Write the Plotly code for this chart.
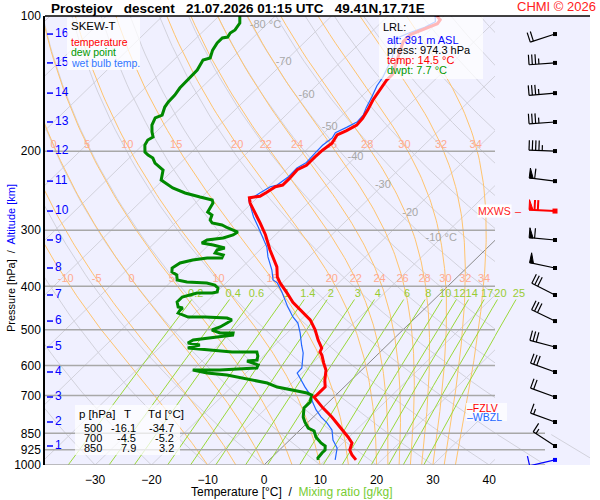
import numpy as np
import plotly.graph_objects as go

# --- sounding (pressure hPa, temperature degC) ---
temp_p = [974, 950, 926, 893, 866, 823, 782, 747, 706, 698,
          681, 670, 647, 615, 593, 569, 560, 549, 527, 500,
          475, 456, 434, 414, 393, 381, 362, 332, 318, 307,
          289, 275, 261, 254, 252, 247, 240, 238, 230, 220,
          215, 206, 199, 192, 184, 180, 175, 169, 162, 154,
          146, 139, 135, 124, 114, 110, 106, 104, 102, 100]
temp_t = [15.4, 13.8, 12.5, 11.6, 9.8, 6.6, 3.3, 0.1, -3.5, -3.4,
          -3.4, -3.4, -4.7, -6.3, -8.0, -9.8, -10.7, -11.1, -13.2, -15.6,
          -18.3, -21.2, -24.6, -27.3, -30.4, -32.0, -33.9, -38.2, -40.2, -41.8,
          -44.9, -47.6, -50.3, -51.4, -49.8, -49.3, -48.8, -47.8, -47.8, -48.0,
          -47.2, -47.2, -47.1, -46.7, -47.3, -46.4, -45.6, -45.8, -46.4, -47.3,
          -47.9, -48.5, -48.5, -50.5, -52.6, -52.6, -50.9, -49.8, -50.0, -51.3]

dwpt_p = [100, 103.7, 107.4, 109.1, 111.4, 111.9, 114.8, 119.1, 124.0, 125.3,
          131.9, 138.9, 144.7, 150.0, 155.4, 159.5, 166.2, 168.7, 174.9, 181.3,
          186.0, 188.9, 193.8, 200.9, 204.0, 207.2, 212.6, 220.3, 232.0, 241.6,
          247.8, 253.0, 256.9, 261.0, 273.3, 277.5, 284.7, 289.1, 292.1, 296.6,
          302.8, 307.4, 312.2, 315.4, 320.3, 323.6, 328.6, 331.9, 337.1, 340.6,
          345.9, 345.9, 349.5, 354.9, 364.1, 371.7, 377.4, 387.3, 391.3, 393.3,
          397.4, 403.5, 411.9, 414.0, 414.0, 422.6, 433.5, 444.8, 447.1, 451.7,
          458.7, 468.2, 468.2, 470.6, 475.4, 482.8, 492.8, 500.5, 508.2, 508.2,
          513.5, 518.8, 526.8, 535.0, 540.6, 548.9, 554.6, 560.3, 560.3, 571.8,
          583.8, 586.8, 592.8, 598.9, 608.2, 614.5, 614.5, 624.0, 630.4, 640.2,
          656.8, 670.4, 680.8, 691.4, 698.5, 724.0, 746.6, 781.8, 802.1, 827.2,
          840.1, 866.2, 893.2, 907.1, 925.9, 940.2, 964.8, 974.0]
dwpt_t = [-86.3, -85.0, -84.6, -84.9, -84.6, -85.4, -85.4, -84.9, -83.9, -84.8,
          -84.0, -83.8, -83.8, -83.4, -83.3, -83.0, -82.0, -82.7, -82.0, -80.7,
          -79.6, -80.0, -79.6, -78.3, -77.2, -75.8, -74.5, -71.8, -70.3, -66.8,
          -63.7, -60.3, -57.6, -56.9, -56.2, -54.9, -54.3, -53.4, -51.3, -49.7,
          -47.2, -47.5, -48.7, -51.2, -51.6, -49.2, -46.6, -47.6, -47.4, -45.6,
          -45.3, -47.9, -50.1, -51.8, -52.3, -51.6, -50.2, -49.2, -47.1, -43.4,
          -41.6, -40.5, -39.9, -40.6, -43.3, -45.2, -45.2, -44.1, -43.1, -43.2,
          -43.0, -40.5, -37.5, -33.4, -32.2, -32.5, -33.0, -33.9, -31.9, -29.6,
          -29.3, -31.7, -35.4, -35.8, -33.3, -34.9, -30.1, -26.3, -21.9, -21.0,
          -20.4, -22.0, -20.6, -19.3, -19.0, -25.2, -30.0, -26.9, -23.0, -19.6,
          -14.4, -11.9, -8.6, -5.5, -4.3, -3.3, -3.3, -1.8, -0.6, 1.1,
          2.7, 4.1, 6.1, 7.4, 8.1, 8.1, 8.3, 8.7]

wetb_p = [974, 917, 880, 836, 806, 782, 754, 728, 698, 670,
          640, 624, 608, 584, 563, 541, 508, 483, 468, 445,
          429, 412, 393, 387, 368, 344, 327, 311, 295, 280,
          266, 257, 248, 240, 238, 228, 218, 212, 202, 194,
          187, 182, 177, 172, 166, 160, 152, 146, 143, 137,
          124, 112, 109, 106, 103, 100]
wetb_t = [11.7, 9.9, 7.7, 5.7, 3.5, 1.4, -0.8, -2.6, -4.6, -7.0,
          -9.5, -10.9, -11.0, -12.3, -13.5, -15.2, -17.7, -19.9, -21.9, -24.6,
          -26.4, -28.4, -30.9, -32.2, -34.2, -37.3, -39.3, -41.8, -44.5, -47.2,
          -49.6, -51.1, -50.4, -49.7, -48.8, -48.3, -48.4, -47.7, -47.9, -48.0,
          -47.6, -48.0, -47.0, -46.1, -46.3, -47.1, -48.0, -48.8, -49.2, -49.7,
          -51.6, -54.4, -53.1, -51.4, -50.5, -51.6]

# altitude marks (km) and the pressure they sit at
alt_km = list(range(1, 17))
alt_p = [907.1, 802.1, 705.6, 620.7, 546.1, 478.0, 418.2, 364.1,
         315.4, 271.9, 233.2, 199.9, 172.2, 148.5, 127.2, 109.7]

# winds: surface first, then every km
wind_p = [974.3] + alt_p
wind_dir = [257, 303, 290, 290, 290, 285, 296, 297, 282, 275, 273, 277, 272, 266, 265, 266, 252]
wind_spd = [10, 15, 15, 20, 30, 30, 30, 30, 50, 60, 70, 60, 45, 35, 35, 35, 20]

# background line families
isotherms = list(range(-130, 50, 10))
dry_theta = list(range(-40, 210, 10))
moist_thw = [-10, -5, 0, 5, 10, 15, 20, 22, 24, 26, 28, 30, 32, 34]
mix_ratio = [0.2, 0.4, 0.6, 1, 1.4, 2, 3, 4, 6, 8, 10, 12, 14, 17, 20, 25]
iso_lab_t = [-80, -70, -60, -50, -40, -30, -20, -10]
iso_lab_p = [105, 127, 150, 177, 206, 238, 275, 312]
plevels = [200, 300, 400, 500, 600, 700, 850, 925, 1000]

# --- geometry ---
SKEW = 82.0
X_LEFT, X_RIGHT = -38.9, 41.03
PXL, PXD, PXR = 45, 495, 590          # left edge, diagram edge, right edge
PYT, PYB = 16, 465
W, H = 600, 500
PX_PER_C = (PXD - PXL) / (X_RIGHT - X_LEFT)


def skew_x(t, p):
    return np.asarray(t, float) + SKEW * np.log10(1000.0 / np.asarray(p, float))


def x_to_px(x):
    return PXL + (np.asarray(x) - X_LEFT) * PX_PER_C


def px_to_x(px):
    return X_LEFT + (px - PXL) / PX_PER_C


def p_to_py(p):
    return PYT + (PYB - PYT) * (np.log10(p) - 2)


def py_to_p(py):
    return 10 ** (2 + (np.asarray(py) - PYT) / (PYB - PYT))


def xp(px):
    return (px - PXL) / (PXR - PXL)


def yp(py):
    return (PYB - py) / (PYB - PYT)


# moist (pseudo) adiabats
RD, CP, LV, EPS = 287.04, 1005.7, 2.501e6, 0.622


def esat(tc):
    return 6.112 * np.exp(17.67 * tc / (tc + 243.5))


def dtdp(p, T):
    e = esat(T - 273.15)
    rs = EPS * e / (p - e)
    return (RD * T + LV * rs) / (CP + LV * LV * rs * EPS / (RD * T * T)) / p


def moist_curve(t0, pp):
    T = t0 + 273.15
    out = [T]
    for i in range(1, len(pp)):
        h = pp[i] - pp[i - 1]
        p = pp[i - 1]
        k1 = dtdp(p, T)
        k2 = dtdp(p + h / 2, T + h / 2 * k1)
        k3 = dtdp(p + h / 2, T + h / 2 * k2)
        k4 = dtdp(p + h, T + h * k3)
        T = T + h / 6 * (k1 + 2 * k2 + 2 * k3 + k4)
        out.append(T)
    return np.array(out) - 273.15


def mix_td(w, p):
    e = np.asarray(p, float) * w / (622.0 + w)
    l = np.log(e / 6.112)
    return 243.5 * l / (17.67 - l)


fig = go.Figure()


def lines(xs, ys, color, width, xaxis="x"):
    fig.add_trace(go.Scatter(x=xs, y=ys, mode="lines", xaxis=xaxis, yaxis="y",
                             line=dict(color=color, width=width),
                             hoverinfo="skip", showlegend=False))


def labels(xs, ys, txt, color, size, xaxis="x"):
    fig.add_trace(go.Scatter(x=xs, y=ys, mode="text", text=txt, xaxis=xaxis, yaxis="y",
                             textfont=dict(color=color, size=size), cliponaxis=False,
                             hoverinfo="skip", showlegend=False))


GRAY = "#d2d2dc"

# isotherms
xs, ys = [], []
for t in isotherms:
    if t == 0:
        continue
    pp = [1000, 100]
    xs += list(skew_x(t, pp)) + [None]
    ys += pp + [None]
lines(xs, ys, GRAY, 1)

# dry adiabats
pp = np.logspace(3, 2, 60)
xs, ys, xs2, ys2 = [], [], [], []
for th in dry_theta:
    t = (th + 273.15) * (pp / 1000.0) ** 0.2857 - 273.15
    xs += list(skew_x(t, pp)) + [None]
    ys += list(pp) + [None]
    low = pp >= 840
    xs2 += list(x_to_px(skew_x(t[low], pp[low]))) + [None]
    ys2 += list(pp[low]) + [None]
lines(xs, ys, GRAY, 1)
lines(xs2, ys2, GRAY, 1, "x2")

# 0 degC isotherm
lines(list(skew_x(0, [1000, 100])), [1000, 100], "#8a8a8a", 1)

# moist adiabats
pm = np.linspace(1000, 100, 181)
xs, ys = [], []
row1_x, row2_x = [], []
for tw in moist_thw:
    t = moist_curve(tw, pm)
    sx = skew_x(t, pm)
    xs += list(sx) + [None]
    ys += list(pm) + [None]
    row1_x.append(np.interp(194, pm[::-1], sx[::-1]))
    row2_x.append(np.interp(386, pm[::-1], sx[::-1]))
lines(xs, ys, "#ffc46e", 1)

# mixing ratio lines
pw = np.linspace(1000, 428, 30)
xs, ys, mix_lab_x = [], [], []
for w in mix_ratio:
    sx = skew_x(mix_td(w, pw), pw)
    xs += list(sx) + [None]
    ys += list(pw) + [None]
    mix_lab_x.append(float(skew_x(mix_td(w, 417), 417)))
lines(xs, ys, "#9ad83a", 1)
lines([float(x_to_px(v)) if v is not None else None for v in xs], ys, "#9ad83a", 1, "x2")

# pressure levels
xs, ys, xs2, ys2 = [], [], [], []
for p in plevels:
    xs += [X_LEFT, X_RIGHT, None]
    ys += [p, p, None]
    if p >= 850:
        xs2 += [PXD, 545, None]
        ys2 += [p, p, None]
lines(xs, ys, "#a8a8a8", 1.5)
lines(xs2, ys2, "#a8a8a8", 1.5, "x2")

# labels of the background lines
labels(list(skew_x(iso_lab_t, iso_lab_p)), iso_lab_p,
       [f"{t} \u00b0C" if t in (-80, -10) else str(t) for t in iso_lab_t], "#a8a8a8", 11)
labels(row1_x, [194] * len(moist_thw), [str(t) for t in moist_thw], "#ffaa90", 11)
labels(row2_x, [386] * len(moist_thw), [str(t) for t in moist_thw], "#ffaa90", 11)
# mixing-ratio labels: the outer ones sit past the diagram edge, on the right-hand axis
inner = [k for k, v in enumerate(mix_lab_x) if v <= X_RIGHT - 0.3]
outer = [k for k, v in enumerate(mix_lab_x) if v > X_RIGHT - 0.3]
labels([mix_lab_x[k] for k in inner], [417] * len(inner),
       [f"{mix_ratio[k]:g}" for k in inner], "#99cc33", 11)
labels([float(x_to_px(mix_lab_x[k])) for k in outer], [417] * len(outer),
       [f"{mix_ratio[k]:g}" for k in outer], "#99cc33", 11, "x2")

# sounding curves
lines(list(skew_x(wetb_t, wetb_p)), wetb_p, "#2266ff", 1.2)
lines(list(skew_x(dwpt_t, dwpt_p)), dwpt_p, "#008800", 3)
lines(list(skew_x(temp_t, temp_p)), temp_p, "#ff0000", 3)

# altitude marks on the left
xs, ys = [], []
for p in alt_p:
    xs += [px_to_x(47), px_to_x(53), None]
    ys += [p, p, None]
lines(xs, ys, "#0000ff", 1.5)
fig.add_trace(go.Scatter(x=[px_to_x(55)] * len(alt_p), y=alt_p, mode="text",
                         text=[str(k) for k in alt_km], textposition="middle right",
                         textfont=dict(color="#0000ff", size=12), hoverinfo="skip",
                         showlegend=False))

# wind barbs (drawn in pixel units on the right-hand axis)
BX, STAFF, FULL, HALF, STEP, FLAG = 555, 26, 10, 5.5, 3.3, 4
imax = int(np.argmax(wind_spd))
for i, (p0, dd, sp) in enumerate(zip(wind_p, wind_dir, wind_spd)):
    col = "#0000ff" if i == 0 else ("#ff0000" if i == imax else "black")
    y0 = p_to_py(p0)
    ux, uy = np.sin(np.radians(dd)), -np.cos(np.radians(dd))
    nx, ny = -uy, ux
    ex, ey = BX + STAFF * ux, y0 + STAFF * uy
    segx, segy = [BX, ex, None], [y0, ey, None]
    n50, rest = divmod(sp, 50)
    n10, rest = divmod(rest, 10)
    pos = 0.0
    for _ in range(n50):
        ax, ay = ex - pos * ux, ey - pos * uy
        bx, by = ex - (pos + FLAG) * ux, ey - (pos + FLAG) * uy
        fx = [ax, ax + FULL * nx, bx, ax]
        fy = [ay, ay + FULL * ny, by, ay]
        fig.add_trace(go.Scatter(x=fx, y=list(py_to_p(fy)), mode="lines", fill="toself",
                                 fillcolor=col, line=dict(color=col, width=1), xaxis="x2",
                                 yaxis="y", hoverinfo="skip", showlegend=False))
        pos += FLAG + 1.5
    for _ in range(n10):
        ax, ay = ex - pos * ux, ey - pos * uy
        segx += [ax, ax + FULL * nx, None]
        segy += [ay, ay + FULL * ny, None]
        pos += STEP
    if rest >= 5:
        if pos == 0:
            pos = STEP
        ax, ay = ex - pos * ux, ey - pos * uy
        segx += [ax, ax + HALF * nx, None]
        segy += [ay, ay + HALF * ny, None]
    segp = [py_to_p(v) if v is not None else None for v in segy]
    fig.add_trace(go.Scatter(x=segx, y=segp, mode="lines", xaxis="x2", yaxis="y",
                             line=dict(color=col, width=2 if i == imax else 1.2),
                             hoverinfo="skip", showlegend=False))
    fig.add_trace(go.Scatter(x=[BX], y=[p0], mode="markers", xaxis="x2", yaxis="y",
                             marker=dict(symbol="square", size=5 if i == imax else 4, color=col),
                             hoverinfo="skip", showlegend=False))

# --- boxes and texts ---
shapes = [
    dict(type="line", xref="paper", yref="paper", x0=0, x1=1, y0=1, y1=1,
         line=dict(color="black", width=1.5)),
]
for (x0, y0, x1, y1) in [(67, 18, 140, 70), (379, 17, 483, 79), (75, 405, 180, 455), (466, 403, 507, 421)]:
    shapes.append(dict(type="rect", xref="paper", yref="paper", layer="above",
                       x0=xp(x0), x1=xp(x1), y0=yp(y1), y1=yp(y0),
                       fillcolor="rgba(255,255,255,0.72)", line=dict(width=0)))
fig.update_layout(shapes=shapes)


def note(px, py, text, color="black", size=11, anchor="left", bg=None, angle=0):
    fig.add_annotation(x=xp(px), y=yp(py), xref="paper", yref="paper", text=text,
                       showarrow=False, xanchor=anchor, yanchor="middle", textangle=angle,
                       font=dict(color=color, size=size), bgcolor=bg, borderpad=0)


note(50, 8, "<b>Prostejov\u00a0\u00a0 descent\u00a0\u00a0 21.07.2026 01:15 UTC\u00a0\u00a0 49.41N,17.71E</b>",
     size=13.5)
note(597, 7, "CHMI \u00a9 2026", color="#ff2020", size=13, anchor="right")

note(70, 26, "SKEW-T", size=11.5)
note(70, 42, "temperature", color="#ff0000", size=10.5)
note(70, 52, "dew point", color="#009900", size=10.5)
note(70, 63, "wet bulb temp.", color="#3377ff", size=10.5)

note(382, 27, "LRL:", size=11)
note(386, 40, "alt: 391 m ASL", color="#0000ff", size=11)
note(386, 50, "press: 974.3 hPa", size=11)
note(386, 60, "temp: 14.5 \u00b0C", color="#ff0000", size=11)
note(386, 70, "dwpt: 7.7 \u00b0C", color="#009900", size=11)

note(78, 414, "p [hPa]", size=11.5)
note(127, 414, "T", size=11.5, anchor="center")
note(147, 414, "Td [\u00b0C]", size=11.5)
table_p = ["500", "700", "850"]
table_t = ["-16.1", "-4.5", "7.9"]
table_td = ["-34.7", "-5.2", "3.2"]
for k, row_y in enumerate([428, 438, 448]):
    note(103, row_y, table_p[k], size=11, anchor="right")
    note(137, row_y, table_t[k], size=11, anchor="right")
    note(175, row_y, table_td[k], size=11, anchor="right")

note(512, p_to_py(wind_p[imax]), "MXWS", color="#ff2020", size=10.5, anchor="right", bg="white")
note(514, p_to_py(wind_p[imax]), "\u2013", color="#ff2020", size=11)
note(466, 408, "\u2013FZLV", color="#ff0000", size=10.5)
note(466, 417, "\u2013WBZL", color="#2266ff", size=10.5)

note(292, 492, "Temperature [\u00b0C]\u00a0 /\u00a0 <span style='color:#77cc33'>Mixing ratio [g/kg]</span>",
     size=12, anchor="center")
note(11, 258, "Pressure [hPa]\u00a0 /\u00a0 <span style='color:#0000ff'>Altitude [km]</span>",
     size=11, anchor="center", angle=-90)

split = (PXD - PXL) / (PXR - PXL)
fig.update_layout(
    width=W, height=H,
    margin=dict(l=PXL, r=W - PXR, t=PYT, b=H - PYB),
    paper_bgcolor="white", plot_bgcolor="#f0f0ff",
    font=dict(family="Liberation Sans, Arial, sans-serif", color="black", size=12),
    showlegend=False,
    xaxis=dict(domain=[0, split], range=[X_LEFT, X_RIGHT], anchor="y",
               tickvals=[-30, -20, -10, 0, 10, 20, 30, 40], showgrid=False, zeroline=False,
               showline=False, ticks="", tickfont=dict(size=12), ticklabelstandoff=6,
               automargin=False, fixedrange=True),
    xaxis2=dict(domain=[split, 1], range=[PXD, PXR], anchor="y", visible=False,
                showgrid=False, zeroline=False, fixedrange=True),
    yaxis=dict(type="log", range=[3, 2], domain=[0, 1], anchor="x",
               tickvals=[100, 200, 300, 400, 500, 600, 700, 850, 925, 1000],
               ticktext=["100", "200", "300", "400", "500", "600", "700", "850", "925", "1000"],
               showgrid=False, zeroline=False, showline=True, linecolor="black", linewidth=1.5,
               ticks="", tickfont=dict(size=12), automargin=False, fixedrange=True),
)

# the page's default body margin would push the figure 8px off the window corner
fig.write_html("out.html", config={"displayModeBar": False},
               post_script="document.body.style.margin='0px';")
